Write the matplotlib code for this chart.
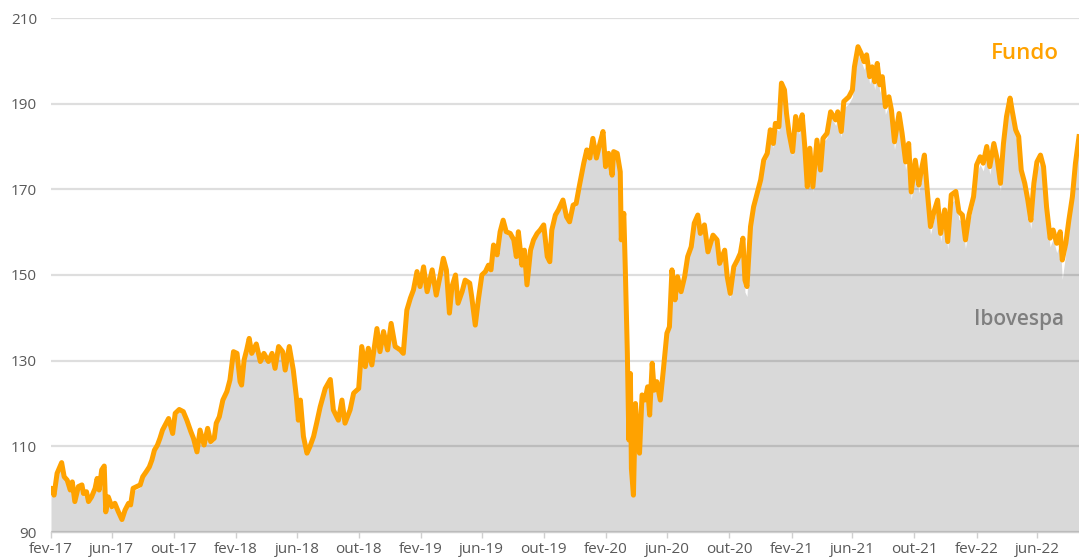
import pandas as pd
import matplotlib
matplotlib.use("Agg")
import matplotlib.pyplot as plt

# dias desde 01/02/2017
dias = [0, 1, 6, 12, 21, 26, 32, 38, 42, 47, 54, 61, 64, 70, 74, 80, 87, 91, 95, 100, 105,
        108, 113, 120, 126, 133, 140, 146, 153, 157, 162, 169, 176, 181, 188, 194, 199, 204, 210, 215, 220,
        227, 232, 240, 245, 253, 261, 268, 276, 281, 288, 294, 302, 309, 315, 322, 326, 332, 339, 347, 353,
        360, 367, 373, 376, 381, 386, 391, 396, 405, 413, 420, 429, 436, 442, 449, 457, 462, 470, 478, 484,
        488, 492, 498, 505, 511, 518, 524, 531,
        541, 551, 557, 567, 574, 580, 590, 597, 607, 613, 620, 626, 633, 643, 649, 656, 664, 671, 679, 689,
        695, 702, 709, 715, 722, 728, 735, 742, 752, 760, 768, 774, 780, 786, 791, 798, 803, 811, 817, 826,
        830, 837, 843, 850, 857, 863, 868, 873, 880, 886, 892, 898, 906, 913, 918, 922, 929, 934, 939, 946,
        952, 959, 965, 972, 979, 984, 988, 995, 1001, 1010, 1017, 1023, 1030, 1036, 1042,
        1051, 1057, 1063, 1069, 1076, 1082, 1089, 1094, 1100, 1107, 1110, 1117, 1123, 1125, 1130, 1133, 1135, 1137, 1140, 1143,
        1145, 1149, 1153, 1157, 1161, 1166, 1172, 1177, 1181, 1186, 1190, 1195, 1202, 1208, 1215, 1220, 1225, 1231, 1236, 1243,
        1250, 1256, 1263, 1269, 1276, 1281, 1289, 1296, 1306, 1314, 1319, 1329, 1334, 1340, 1347, 1354, 1360, 1365, 1369, 1373,
        1380, 1386, 1393, 1400, 1406, 1413, 1419, 1425, 1429, 1436, 1441, 1447, 1451, 1456, 1463, 1469, 1475, 1482, 1487, 1492,
        1497, 1503, 1511, 1518, 1523, 1531, 1538,
        1548, 1552, 1559, 1564, 1574, 1581, 1585, 1592, 1598, 1604, 1609, 1615, 1620, 1625, 1630, 1635, 1640, 1646, 1653, 1658,
        1664, 1673, 1679, 1686, 1692, 1697, 1705, 1712, 1717, 1723, 1728, 1735, 1742, 1749, 1755, 1763, 1769, 1776, 1785, 1791,
        1798, 1804, 1811, 1820, 1826, 1833, 1839, 1846, 1852, 1860, 1867, 1873, 1879, 1885, 1892, 1896, 1903, 1909, 1914, 1921,
        1927, 1933, 1939, 1945, 1952, 1958, 1964, 1971, 1977, 1984, 1991, 1995, 2002, 2008, 2015, 2021, 2028]

fundo = [100.0, 100.2, 98.6, 103.7, 106.2, 102.9, 102.1, 99.8, 101.7, 97.1, 100.6,
         101.0, 99.0, 99.4, 97.1, 98.2, 100.2, 102.5, 99.8, 104.5, 105.4,
         94.7, 98.2, 95.9, 96.7, 94.7, 92.9, 95.1, 96.7, 96.3, 100.2,
         100.6, 101.0, 102.9, 104.1, 105.2, 106.8, 109.1, 110.3, 111.9, 113.8,
         115.4, 116.5, 113.0, 117.7, 118.6, 118.1, 116.1, 113.4, 111.9, 108.7,
         113.8, 110.3, 114.2, 111.1, 111.9, 115.4, 116.9, 120.8, 122.8, 125.5,
         132.1, 131.7, 125.1, 124.3, 130.2, 132.5, 135.2, 131.7, 133.9, 129.8,
         131.7, 129.8, 131.7, 128.2, 133.3, 132.1, 127.8, 133.3, 127.8, 121.6,
         116.1, 120.8, 112.3, 108.4, 110.0, 112.3, 115.4, 119.2,
         123.5, 125.6, 118.5, 116.1, 120.8, 115.4, 118.5, 122.4, 123.5, 133.3,
         128.6, 132.9, 129.0, 137.5, 132.1, 136.8, 132.5, 138.7, 133.3, 132.5,
         131.7, 141.8, 144.6, 146.5, 150.8, 147.3, 151.9, 146.1, 151.2, 145.3,
         150.0, 153.9, 151.2, 141.1, 147.3, 150.0, 143.4, 146.1, 148.8, 148.1,
         144.9, 138.3, 144.2, 150.0, 150.8, 152.3, 151.2, 157.0, 154.7, 160.1,
         162.8, 160.1, 159.7, 158.2, 154.3, 160.1, 152.3, 155.8, 147.7, 155.8,
         158.2, 159.7, 160.5, 161.7, 154.3, 153.1, 160.5, 164.0, 165.2, 167.5,
         163.6, 162.4, 166.3, 166.7, 170.6,
         176.1, 179.2, 177.3, 181.9, 177.3, 180.3, 183.5, 175.3, 178.4, 173.3,
         178.8, 178.4, 174.1, 158.2, 164.4, 151.2, 141.1, 131.7, 111.5, 127.0,
         104.8, 98.6, 120.0, 113.0, 108.4, 122.0, 120.8, 123.9, 117.3, 129.4,
         123.1, 125.1, 120.8, 127.8, 136.4, 137.9, 151.2, 144.2, 149.6, 146.1,
         149.6, 154.3, 156.6, 162.1, 164.0, 159.7, 161.7, 155.4, 159.3, 158.2,
         152.7, 155.8, 149.6, 145.7, 151.9, 153.5, 155.1, 158.6, 148.8, 147.3,
         161.3, 165.9, 169.1, 172.2, 176.8, 178.4, 183.9, 180.7, 185.4, 184.6,
         194.8, 193.2, 187.7, 183.1, 178.8, 187.0, 183.9, 187.4, 180.0, 170.6,
         179.6, 170.6, 181.5, 174.5, 181.9, 183.1, 188.1,
         186.2, 188.1, 183.5, 190.5, 191.6, 193.2, 198.6, 203.3, 201.8, 199.8,
         201.4, 196.3, 198.6, 195.1, 199.4, 194.4, 196.3, 189.3, 191.6, 188.5,
         181.1, 187.7, 183.1, 176.4, 180.7, 169.4, 176.8, 171.0, 174.5, 178.0,
         170.6, 161.3, 164.8, 167.5, 159.7, 165.2, 157.8, 168.7, 169.5, 164.8,
         164.0, 158.2, 164.0, 168.3, 175.7, 177.6, 176.1, 180.0, 175.3, 180.7,
         176.8, 171.4, 180.7, 187.0, 191.3, 188.5, 183.9, 182.3, 174.5, 171.4,
         167.5, 162.8, 171.4, 176.4, 178.0, 175.3, 165.9, 158.6, 160.5, 157.4,
         160.1, 153.5, 157.4, 162.8, 168.3, 176.1, 182.3]

ibovespa = [99.4, 99.6, 98.0, 103.1, 105.6, 102.3, 101.5, 99.2, 101.1, 96.5,
            100.0, 100.4, 98.4, 98.8, 96.5, 97.6, 99.6, 101.9, 99.2, 103.9,
            104.8, 94.1, 97.6, 95.3, 96.1, 94.1, 92.3, 94.5, 96.1, 95.7,
            99.6, 100.0, 100.4, 102.3, 103.5, 104.6, 106.2, 108.5, 109.7, 111.3,
            113.2, 114.8, 115.9, 112.4, 117.1, 118.0, 117.5, 115.5, 112.8, 111.3,
            108.1, 113.2, 109.7, 113.6, 110.5, 111.3, 114.8, 116.3, 120.2, 122.2,
            124.9, 131.5, 131.1, 124.5, 123.7, 129.6, 131.9, 134.6, 131.1, 133.3,
            129.2, 131.1, 129.2, 131.1, 127.6, 132.7, 131.5, 127.2, 132.7, 127.2,
            121.0, 115.5, 120.2, 111.7, 107.8, 109.4, 111.7, 114.8, 118.6,
            122.9, 125.0, 117.9, 115.5, 120.2, 114.8, 117.9, 121.8, 122.9, 132.7,
            128.0, 132.3, 128.4, 136.9, 131.5, 136.2, 131.9, 138.1, 132.7, 131.9,
            131.1, 141.2, 144.0, 145.9, 150.2, 146.7, 151.3, 145.5, 150.6, 144.7,
            149.4, 153.3, 150.6, 140.5, 146.7, 149.4, 142.8, 145.5, 148.2, 147.5,
            144.3, 137.7, 143.6, 149.4, 150.2, 151.7, 150.6, 156.4, 154.1, 159.5,
            162.2, 159.5, 159.1, 157.6, 153.7, 159.5, 151.7, 155.2, 147.1, 155.2,
            157.6, 159.1, 159.9, 161.1, 153.7, 152.5, 159.9, 163.4, 164.6, 166.9,
            163.0, 161.8, 165.7, 166.1, 170.0,
            175.5, 178.6, 176.7, 181.3, 176.7, 179.7, 182.9, 174.7, 177.8, 172.7,
            178.2, 177.8, 173.5, 157.6, 163.8, 150.6, 140.5, 131.1, 110.9, 126.4,
            104.2, 98.0, 119.4, 112.4, 107.8, 121.4, 120.2, 123.3, 116.7, 128.8,
            122.5, 124.5, 120.2, 127.2, 135.8, 137.3, 150.6, 143.6, 149.0, 145.5,
            149.0, 153.7, 156.0, 161.5, 163.4, 159.1, 161.1, 154.8, 158.7, 157.6,
            152.1, 154.8, 148.6, 144.6, 150.9, 152.5, 154.1, 157.6, 146.0, 145.0,
            160.3, 164.9, 168.1, 171.2, 175.8, 177.4, 182.9, 179.7, 184.4, 183.6,
            193.8, 192.2, 186.7, 182.1, 177.8, 186.0, 182.9, 186.4, 179.0, 169.6,
            178.6, 169.4, 180.5, 173.5, 180.9, 182.1, 187.1,
            184.9, 186.8, 182.2, 189.0, 190.0, 191.6, 196.8, 201.4, 200.0, 198.0,
            199.6, 194.6, 196.8, 193.3, 197.6, 192.6, 194.5, 187.5, 189.8, 186.7,
            179.3, 185.9, 181.3, 174.6, 178.9, 167.6, 175.0, 169.2, 172.7, 176.2,
            168.8, 159.5, 163.0, 165.7, 157.9, 163.4, 156.0, 166.9, 167.7, 163.0,
            162.2, 156.2, 162.2, 166.5, 173.9, 175.8, 174.3, 178.2, 173.5, 178.9,
            175.0, 169.6, 178.9, 185.2, 189.5, 186.7, 182.1, 180.5, 172.7, 169.6,
            165.7, 160.8, 169.6, 174.6, 176.2, 173.5, 164.1, 156.6, 158.5, 155.2,
            157.6, 149.0, 155.2, 160.8, 166.5, 174.3, 180.5]

tick_datas = ['2017-02-01', '2017-06-01', '2017-10-01', '2018-02-01', '2018-06-01', '2018-10-01',
              '2019-02-01', '2019-06-01', '2019-10-01', '2020-02-01', '2020-06-01', '2020-10-01',
              '2021-02-01', '2021-06-01', '2021-10-01', '2022-02-01', '2022-06-01']
tick_labels = ['fev-17', 'jun-17', 'out-17', 'fev-18', 'jun-18', 'out-18',
               'fev-19', 'jun-19', 'out-19', 'fev-20', 'jun-20', 'out-20',
               'fev-21', 'jun-21', 'out-21', 'fev-22', 'jun-22']
y_ticks = [90, 110, 130, 150, 170, 190, 210]

inicio = pd.Timestamp('2017-02-01')
datas = inicio + pd.to_timedelta(dias, unit='D')

plt.rcParams['font.family'] = ['Open Sans', 'DejaVu Sans']

fig = plt.figure(figsize=(10.79, 5.57), dpi=100)
ax = fig.add_axes([51 / 1079, 25 / 557, 1028 / 1079, 514 / 557])

# Ibovespa como area cinza, fundo como linha laranja
ax.fill_between(datas, ibovespa, 90, color='#d9d9d9', lw=0, zorder=1)
ax.plot(datas, fundo, color='#ffa200', lw=3.6, solid_joinstyle='round', zorder=3)

ax.set_ylim(90, 210)
ax.set_xlim(datas[0], datas[-1])
ax.set_yticks(y_ticks)
ax.set_xticks(pd.to_datetime(tick_datas))
ax.set_xticklabels(tick_labels)

ax.grid(axis='y', color='black', alpha=0.13, lw=1.6, zorder=2)
ax.set_axisbelow(False)
for s in ['top', 'right', 'left']:
    ax.spines[s].set_visible(False)
ax.spines['bottom'].set_color('#d0d0d0')
ax.spines['bottom'].set_linewidth(1.0)
ax.spines['bottom'].set_zorder(2)

ax.tick_params(axis='y', length=0, pad=10, labelsize=11, labelcolor='#595959')
ax.tick_params(axis='x', length=4, width=1, color='#cfcfcf', pad=3, labelsize=11, labelcolor='#595959')

ax.text(0.947, 0.9196, 'Fundo', transform=ax.transAxes, ha='center', va='baseline',
        fontsize=16, fontweight='semibold', color='#ffa200')
ax.text(0.9416, 0.4027, 'Ibovespa', transform=ax.transAxes, ha='center', va='baseline',
        fontsize=15, fontweight='semibold', color='#7f7f7f')

fig.savefig('out.png', dpi=100)
